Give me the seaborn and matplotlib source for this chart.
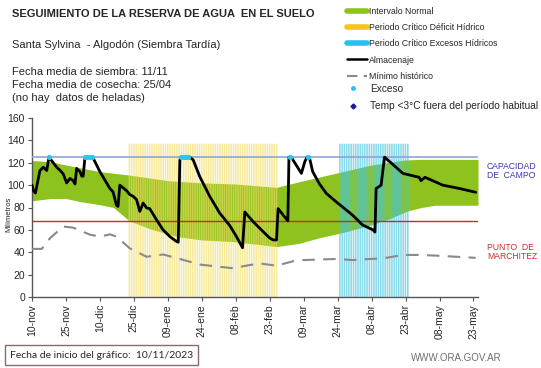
import numpy as np
import pandas as pd
import matplotlib
matplotlib.use("Agg")
import matplotlib.pyplot as plt
from matplotlib.lines import Line2D
import seaborn as sns

# days counted from 10-nov-2023
tick_days = [0, 15, 30, 45, 60, 75, 90, 105, 120, 135, 150, 165, 180, 195]
tick_labels = ["10-nov", "25-nov", "10-dic", "25-dic", "09-ene", "24-ene", "08-feb",
               "23-feb", "09-mar", "24-mar", "08-abr", "23-abr", "08-may", "23-may"]

# normal interval (green band)
upper_days = [0, 8, 15, 30, 43, 60, 75, 90, 108, 120, 135, 150, 165, 172, 180, 197]
upper_vals = [122, 121, 118, 112, 109, 104, 102, 101, 98, 104, 111, 118, 122.5, 123, 123, 123]
lower_days = [0, 8, 15, 22, 30, 36, 43, 52, 64, 75, 89, 100, 108, 118, 127, 138, 149, 158, 166, 172, 178, 197]
lower_vals = [86, 88, 88, 85, 82.5, 80, 68, 61, 54, 51, 49.5, 47, 45, 48, 53, 58, 64, 70, 77, 80, 82, 82]

# stored water (Almacenaje)
alm_days = [0, 0.6, 1.5, 3.5, 5, 6.5, 7.5, 9, 10.9, 12.5, 13.8, 15.3, 16.8, 18.2, 19, 19.7,
            21.2, 22, 22.6, 23.4, 26.8, 30, 34.4, 35.8, 37.3, 38, 38.8, 41.8, 43.2, 44.7,
            46.2, 47.6, 49.1, 50.6, 52, 55, 57.9, 60.9, 63.8, 64.6, 65.3, 66, 69.7, 71.2,
            74.1, 78.5, 82.9, 87.3, 90.3, 93, 94, 97.6, 102, 105, 106.5, 108, 108.7, 113,
            113.5, 114.5, 119, 120.5, 121.5, 122.5, 124, 127, 130, 134.4, 141.7, 146, 150.6,
            151.5, 152, 154.2, 155.7, 159.4, 163.8, 171, 171.8, 173.6, 181.4, 188.8, 196]
alm_vals = [100, 95, 93, 113, 116, 113, 125, 121, 116, 113, 110, 102, 106, 104, 101, 115,
            112, 108, 108, 125, 125, 112, 97, 94, 82, 81, 100, 95, 91.5, 90,
            87, 76.5, 84, 79.6, 79, 69, 60, 54, 49.7, 49, 122.5, 125, 125, 122.5,
            107.6, 90, 75, 64, 54, 44, 76, 67.5, 58.6, 52.7, 51, 51, 79, 68,
            125, 125, 110.5, 121, 125, 125, 112, 101, 92.6, 85, 73, 64.4, 60,
            58, 97, 100, 125, 118.5, 110.5, 107, 104, 107, 100, 97, 93.6]

# historical minimum
min_days = [0, 4.3, 8, 13.8, 18.2, 25.6, 30, 34.4, 37.3, 43.2, 50.6, 57.9, 65.3, 74.1,
            88.8, 94.6, 100.5, 108, 115.4, 119.8, 134.4, 141.7, 149, 155, 163.8, 171, 178.4, 196]
min_vals = [43, 43, 52.7, 63, 62, 55.7, 54, 56, 54, 43.5, 36, 38, 34, 29,
            25.7, 28, 30, 28, 32, 33, 34, 33, 34, 34.5, 37.6, 37.6, 37, 35]

# excess days
exc_days = [7.5, 23.5, 24.5, 25.5, 26.5, 66, 67, 68, 69, 114, 121.8]
exc_vals = [125] * len(exc_days)

capacidad = 125
marchitez = 68
deficit_days = list(range(43, 109))
excesos_days = list(range(136, 167))
band_top = 137

GREEN = "#8dc21f"
YELLOW = "#f0dc60"
CYAN = "#48c6de"

sns.set_style("ticks")
plt.rcParams["font.family"] = ["Liberation Sans", "DejaVu Sans"]

fig = plt.figure(figsize=(5.41, 3.68), dpi=100)
ax = fig.add_axes([32 / 541, 1 - 297 / 368, (478 - 32) / 541, (297 - 118) / 368])

# green band
ud = np.arange(0, 198)
up = np.interp(ud, upper_days, upper_vals)
lo = np.interp(ud, lower_days, lower_vals)
ax.fill_between(ud, lo, up, color=GREEN, lw=0, zorder=1)

# critical period stripes
ax.bar(deficit_days, [band_top] * len(deficit_days), width=0.7, color=YELLOW,
       alpha=0.6, lw=0, zorder=2, snap=False)
ax.bar(excesos_days, [band_top] * len(excesos_days), width=0.7, color=CYAN,
       alpha=0.65, lw=0, zorder=2, snap=False)

ax.axhline(capacidad, color="#8ea6d6", lw=1.2, zorder=3)
ax.axhline(marchitez, color="#c0302a", lw=1.0, zorder=3)

df_min = pd.DataFrame({"dia": min_days, "mm": min_vals})
sns.lineplot(data=df_min, x="dia", y="mm", ax=ax, color="#8a8a8a", lw=1.5,
             zorder=3, estimator=None)
ax.lines[-1].set_dashes([6, 4])

df_alm = pd.DataFrame({"dia": alm_days, "mm": alm_vals})
sns.lineplot(data=df_alm, x="dia", y="mm", ax=ax, color="black", lw=2,
             zorder=4, estimator=None, sort=False)

ax.scatter(exc_days, exc_vals, s=14, color="#2ec5e8", zorder=5, lw=0)

ax.set_xlim(0, 197)
ax.set_ylim(0, 160)
ax.set_yticks(range(0, 161, 20))
ax.set_xticks(tick_days)
ax.set_xticklabels(tick_labels, rotation=90, fontsize=7.5)
ax.tick_params(axis="y", labelsize=7.5, length=3, color="#555555", pad=2)
ax.tick_params(axis="x", length=3, color="#555555", pad=2)
ax.set_xlabel("")
ax.set_ylabel("Milímetros", fontsize=5.5, va="center")
ax.yaxis.set_label_coords(-0.052, 0.46)
for s in ["top", "right"]:
    ax.spines[s].set_visible(False)
for s in ["left", "bottom"]:
    ax.spines[s].set_color("#555555")
    ax.spines[s].set_linewidth(1.0)

# header text
fig.text(12 / 541, 1 - 14 / 368, "SEGUIMIENTO DE LA RESERVA DE AGUA  EN EL SUELO",
         fontsize=8, fontweight="bold", va="center")
fig.text(12 / 541, 1 - 45 / 368, "Santa Sylvina  - Algodón (Siembra Tardía)",
         fontsize=8, va="center")
fig.text(12 / 541, 1 - 72 / 368, "Fecha media de siembra: 11/11", fontsize=8, va="center")
fig.text(12 / 541, 1 - 85 / 368, "Fecha media de cosecha: 25/04", fontsize=8, va="center")
fig.text(12 / 541, 1 - 98 / 368, "(no hay  datos de heladas)", fontsize=8, va="center")

# legend: line/band entries
handles1 = [
    Line2D([], [], color=GREEN, lw=4),
    Line2D([], [], color="#f5c518", lw=4),
    Line2D([], [], color="#22c4ee", lw=4),
    Line2D([], [], color="black", lw=1.8),
    Line2D([], [], color="#8a8a8a", lw=1.5, dashes=[5, 3]),
]
labels1 = ["Intervalo Normal", "Periodo Crítico Déficit Hídrico",
           "Periodo Crítico Excesos Hídricos", "Almacenaje", "Mínimo histórico"]
fig.legend(handles1, labels1, loc="upper left", bbox_to_anchor=(347 / 541, 1 - 7 / 368),
           frameon=False, fontsize=6.3, labelspacing=0.82, handlelength=2.3,
           handletextpad=0.2, borderaxespad=0, borderpad=0)

# legend: marker entries
handles2 = [
    Line2D([], [], color="#22c4ee", lw=0, marker="o", markersize=2.5),
    Line2D([], [], color="#1a1aa0", lw=0, marker="D", markersize=2.5),
]
labels2 = ["Exceso", "Temp <3°C fuera del período habitual"]
fig.legend(handles2, labels2, loc="upper left", bbox_to_anchor=(343 / 541, 1 - 84 / 368),
           frameon=False, fontsize=7.3, labelspacing=0.71, handlelength=2.0,
           handletextpad=0.65, borderaxespad=0, borderpad=0)

# reference line labels
fig.text(487 / 541, 1 - 171 / 368, "CAPACIDAD\nDE  CAMPO", fontsize=6.2,
         color="#3838b0", va="center", linespacing=1.1)
fig.text(487 / 541, 1 - 252 / 368, "PUNTO  DE\nMARCHITEZ", fontsize=6.2,
         color="#c83030", va="center", linespacing=1.1)

# footer
fig.text(10 / 541, 1 - 355 / 368, "Fecha de inicio del gráfico:  10/11/2023",
         fontsize=7.5, family=["Lato", "DejaVu Sans"], va="center",
         bbox=dict(boxstyle="square,pad=0.5", fc="white", ec="#8b6a6a", lw=1))
fig.text(456 / 541, 1 - 358 / 368, "WWW.ORA.GOV.AR", fontsize=7, color="#707070",
         ha="center", va="center")

fig.savefig("out.png", dpi=100)
